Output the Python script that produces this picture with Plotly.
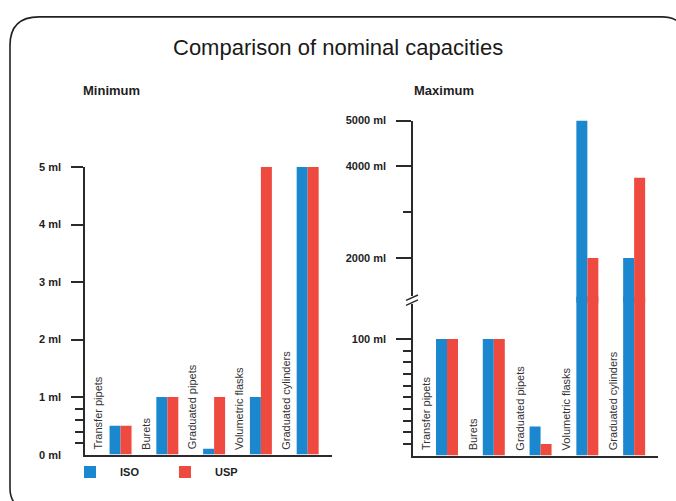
import plotly.graph_objects as go

W, H = 676, 501

categories = ["Transfer pipets", "Burets", "Graduated pipets", "Volumetric flasks", "Graduated cylinders"]
series_names = ["ISO", "USP"]
min_iso = [0.5, 1, 0.1, 1, 5]
min_usp = [0.5, 1, 1, 5, 5]
max_iso = [100, 100, 25, 5000, 2000]
max_usp = [100, 100, 10, 2000, 3750]

min_tick_vals = [0, 1, 2, 3, 4, 5]
min_tick_text = ["0 ml", "1 ml", "2 ml", "3 ml", "4 ml", "5 ml"]
min_minor_vals = [0.2, 0.4, 0.6, 0.8]
low_tick_vals = [100]
low_tick_text = ["100 ml"]
low_minor_vals = [10, 20, 30, 40, 50, 60, 70, 80, 90]
up_tick_vals = [2000, 4000, 5000]
up_tick_text = ["2000 ml", "4000 ml", "5000 ml"]
up_minor_vals = [3000]

colors = {"ISO": "#1a87cf", "USP": "#ef4a3f"}
AX = "#2a2a2a"
FONT = "Liberation Sans, Arial, sans-serif"


def fx(p):
    return p / W


def fy(p):
    return 1 - p / H


fig = go.Figure()
for name, mn, mx in zip(series_names, [min_iso, min_usp], [max_iso, max_usp]):
    fig.add_trace(go.Bar(x=categories, y=mn, name=name, marker=dict(color=colors[name], line=dict(width=0)),
                         xaxis="x", yaxis="y", legendgroup=name, showlegend=True))
    fig.add_trace(go.Bar(x=categories, y=mx, name=name, marker=dict(color=colors[name], line=dict(width=0)),
                         xaxis="x2", yaxis="y2", legendgroup=name, showlegend=False))
    fig.add_trace(go.Bar(x=categories, y=mx, name=name, marker=dict(color=colors[name], line=dict(width=0)),
                         xaxis="x2", yaxis="y3", legendgroup=name, showlegend=False))

tickfont = dict(family=FONT, size=11, color="#1e1e1e", weight="bold")


def yax(domain, rng, tv, tt, minor, anchor, ticklen):
    return dict(domain=domain, range=rng, anchor=anchor, tickmode="array", tickvals=tv, ticktext=tt,
                ticks="outside", ticklen=ticklen, tickwidth=1.5, tickcolor=AX, showline=True,
                linecolor=AX, linewidth=1.5, showgrid=False, zeroline=False, tickfont=tickfont,
                ticklabelstandoff=8, fixedrange=True,
                minor=dict(tickmode="array", tickvals=minor, ticks="outside", ticklen=8,
                           tickwidth=1.5, tickcolor=AX, showgrid=False))


def xax(domain, rng, anchor):
    return dict(domain=domain, range=rng, anchor=anchor, type="category", showline=True,
                linecolor=AX, linewidth=1.5, showticklabels=False, ticks="", showgrid=False,
                zeroline=False, fixedrange=True)


# pixel geometry of the broken right axis
break_y = 297
low_px_per_ml = (455 - 337) / 100.0          # 0..100 ml segment
up_px_per_ml = (255 - 116) / 3000.0          # 2000..5000 ml segment
low_top = break_y - 3
up_bot = break_y + 3
fig.update_layout(
    width=W, height=H, margin=dict(l=0, r=0, t=0, b=0),
    paper_bgcolor="white", plot_bgcolor="rgba(0,0,0,0)",
    barmode="group", bargap=0.53, bargroupgap=0,
    xaxis=xax([fx(85), fx(332)], [-0.76, 4.52], "y"),
    yaxis=yax([fy(454), fy(163)], [0, 5], min_tick_vals[1:], min_tick_text[1:], min_minor_vals, "x", 12),
    xaxis2=xax([fx(413), fx(658)], [-0.727, 4.51], "y2"),
    yaxis2=yax([fy(455), fy(low_top)], [0, (455 - low_top) / low_px_per_ml],
               low_tick_vals, low_tick_text, low_minor_vals, "x2", 15),
    yaxis3=yax([fy(up_bot), fy(116)], [2000 - (up_bot - 255) / up_px_per_ml, 5000],
               up_tick_vals, up_tick_text, up_minor_vals, "x2", 15),
    showlegend=True,
    legend=dict(orientation="h", x=fx(60), y=fy(457), xanchor="left", yanchor="top",
                font=dict(family=FONT, size=11, color="#1e1e1e", weight="bold"),
                itemwidth=50, entrywidth=30, entrywidthmode="pixels", traceorder="normal",
                bgcolor="rgba(0,0,0,0)"),
    font=dict(family=FONT),
)

ann = []
ann.append(dict(text="Comparison of nominal capacities", x=0.5, y=fy(42), xref="paper", yref="paper",
                xanchor="center", yanchor="middle", showarrow=False,
                font=dict(family=FONT, size=22, color="#1a1a1a")))
ann.append(dict(text="Minimum", x=fx(81), y=fy(86), xref="paper", yref="paper", xanchor="left",
                yanchor="middle", showarrow=False, font=dict(family=FONT, size=13, color="#1e1e1e", weight="bold")))
ann.append(dict(text="Maximum", x=fx(412), y=fy(86), xref="paper", yref="paper", xanchor="left",
                yanchor="middle", showarrow=False, font=dict(family=FONT, size=13, color="#1e1e1e", weight="bold")))
ann.append(dict(text=min_tick_text[0], x=fx(63), y=min_tick_vals[0], xref="paper", yref="y", xanchor="right",
                yanchor="middle", showarrow=False, font=tickfont))
for c in categories:
    ann.append(dict(text=c, x=c, y=0, xref="x", yref="y", xanchor="center", yanchor="bottom",
                    textangle=-90, xshift=-22, yshift=3, showarrow=False,
                    font=dict(family=FONT, size=11, color="#333")))
    ann.append(dict(text=c, x=c, y=0, xref="x2", yref="y2", xanchor="center", yanchor="bottom",
                    textangle=-90, xshift=-21, yshift=3, showarrow=False,
                    font=dict(family=FONT, size=11, color="#333")))
fig.update_layout(annotations=ann)


def pt(x, y):
    return f"{fx(x):.5f},{fy(y):.5f}"


border = ("M " + pt(26, 512) + " Q " + pt(10, 505) + " " + pt(10, 488) + " L " + pt(10, 40) +
          " Q " + pt(10, 11) + " " + pt(39, 11) + " L " + pt(662, 11) + " Q " + pt(684, 11) + " " + pt(692, 36))
shapes = [
    dict(type="path", path=border, xref="paper", yref="paper", line=dict(color="#222", width=1.6)),
    dict(type="rect", x0=fx(409), x1=fx(417), y0=fy(293.5), y1=fy(301.5), xref="paper", yref="paper",
         fillcolor="white", line=dict(width=0), layer="above"),
    dict(type="line", x0=fx(406), y0=fy(298), x1=fx(418), y1=fy(292.5), xref="paper", yref="paper",
         line=dict(color=AX, width=1.4)),
    dict(type="line", x0=fx(406), y0=fy(303), x1=fx(418), y1=fy(297.5), xref="paper", yref="paper",
         line=dict(color=AX, width=1.4)),
]
fig.update_layout(shapes=shapes)

fig.write_html("out.html", config={"displayModeBar": False},
               post_script="document.body.style.margin='0';document.body.style.overflow='hidden';")
